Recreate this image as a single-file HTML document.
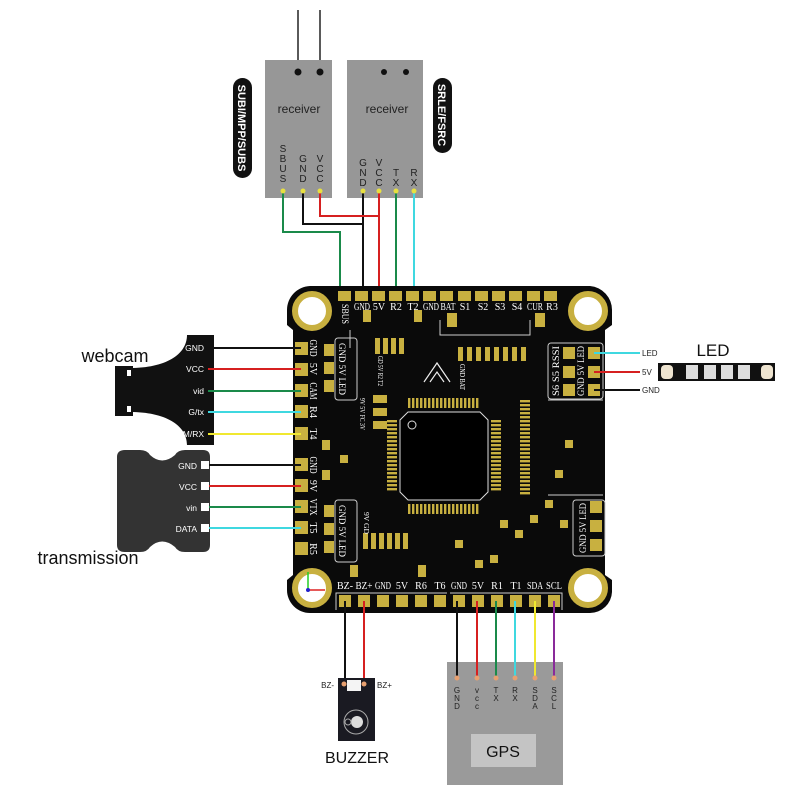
<!DOCTYPE html>
<html><head><meta charset="utf-8"><style>
body{margin:0;background:#fff}
svg{display:block}
text{font-family:"Liberation Sans",sans-serif}
.s,.s text{font-family:"Liberation Serif",serif;fill:#fff}
</style></head><body>
<svg width="800" height="800" viewBox="0 0 800 800">
<line x1="298" y1="10" x2="298" y2="72" stroke="#222" stroke-width="1.5"/>
<line x1="320" y1="10" x2="320" y2="72" stroke="#222" stroke-width="1.5"/>
<rect x="265" y="60" width="67" height="138" fill="#979797"/>
<rect x="347" y="60" width="76" height="138" fill="#979797"/>
<circle cx="298" cy="72" r="3.5" fill="#111"/><circle cx="320" cy="72" r="3.5" fill="#111"/>
<circle cx="384" cy="72" r="3" fill="#111"/><circle cx="406" cy="72" r="3" fill="#111"/>
<text x="299" y="113" font-size="12" fill="#222" text-anchor="middle">receiver</text>
<text x="387" y="113" font-size="12" fill="#222" text-anchor="middle">receiver</text>
<g font-size="10" fill="#222" text-anchor="middle">
<text x="283" y="152">S</text><text x="283" y="162">B</text><text x="283" y="172">U</text><text x="283" y="182">S</text>
<text x="303" y="162">G</text><text x="303" y="172">N</text><text x="303" y="182">D</text>
<text x="320" y="162">V</text><text x="320" y="172">C</text><text x="320" y="182">C</text>
<text x="363" y="166">G</text><text x="363" y="176">N</text><text x="363" y="186">D</text>
<text x="379" y="166">V</text><text x="379" y="176">C</text><text x="379" y="186">C</text>
<text x="396" y="176">T</text><text x="396" y="186">X</text>
<text x="414" y="176">R</text><text x="414" y="186">X</text>
</g>
<rect x="233" y="78" width="19" height="100" rx="9.5" fill="#111"/>
<text transform="translate(238,128) rotate(90)" font-size="11" font-weight="bold" fill="#fff" text-anchor="middle">SUBI/MPP/SUBS</text>
<rect x="433" y="78" width="19" height="75" rx="9.5" fill="#111"/>
<text transform="translate(438,115) rotate(90)" font-size="11" font-weight="bold" fill="#fff" text-anchor="middle">SRLE/FSRC</text>
<g fill="none" stroke-width="2">
<polyline points="283,191 283,232 340,232 340,295" stroke="#1a8a4a"/>
<polyline points="303,191 303,224 363,224" stroke="#111"/>
<polyline points="363,191 363,295" stroke="#111"/>
<polyline points="320,191 320,216 379,216" stroke="#d62020"/>
<polyline points="379,191 379,295" stroke="#d62020"/>
<polyline points="396,191 396,295" stroke="#1a8a4a"/>
<polyline points="414,191 414,295" stroke="#3fd8e0"/>
</g>
<g fill="#e8e040"><circle cx="283" cy="191" r="2.5"/><circle cx="303" cy="191" r="2.5"/><circle cx="320" cy="191" r="2.5"/><circle cx="363" cy="191" r="2.5"/><circle cx="379" cy="191" r="2.5"/><circle cx="396" cy="191" r="2.5"/><circle cx="414" cy="191" r="2.5"/></g>

<path d="M310,286 H590 A24,24 0 0 1 612,310 V325 L605,330 V575 L612,580 V592 A22,22 0 0 1 590,613 H310 A23,23 0 0 1 287,590 V580 L293,575 V330 L287,325 V310 A24,24 0 0 1 310,286Z" fill="#0a0a0a"/>
<g fill="#fff" stroke="#c8b040" stroke-width="6">
<circle cx="312" cy="311" r="17"/><circle cx="588" cy="311" r="17"/><circle cx="312" cy="588" r="17"/><circle cx="588" cy="588" r="17"/>
</g>
<g fill="#c8b040">
<rect x="338" y="291" width="13" height="10"/><rect x="355" y="291" width="13" height="10"/><rect x="372" y="291" width="13" height="10"/><rect x="389" y="291" width="13" height="10"/><rect x="406" y="291" width="13" height="10"/><rect x="423" y="291" width="13" height="10"/><rect x="440" y="291" width="13" height="10"/><rect x="458" y="291" width="13" height="10"/><rect x="475" y="291" width="13" height="10"/><rect x="492" y="291" width="13" height="10"/><rect x="509" y="291" width="13" height="10"/><rect x="527" y="291" width="13" height="10"/><rect x="544" y="291" width="13" height="10"/>
</g>
<g class="s" font-size="10" text-anchor="middle">
<text x="362" y="310" textLength="16" lengthAdjust="spacingAndGlyphs">GND</text><text x="379" y="310">5V</text><text x="396" y="310">R2</text><text x="413" y="310">T2</text><text x="431" y="310" textLength="16" lengthAdjust="spacingAndGlyphs">GND</text><text x="448" y="310" textLength="15" lengthAdjust="spacingAndGlyphs">BAT</text><text x="465" y="310">S1</text><text x="483" y="310">S2</text><text x="500" y="310">S3</text><text x="517" y="310">S4</text><text x="535" y="310" textLength="16" lengthAdjust="spacingAndGlyphs">CUR</text><text x="552" y="310">R3</text>
</g>
<text class="s" font-size="9" transform="translate(342,304) rotate(90)" textLength="20" lengthAdjust="spacingAndGlyphs">SBUS</text>
<g fill="#c8b040">
<rect x="295" y="342" width="13" height="13"/><rect x="295" y="363" width="13" height="13"/><rect x="295" y="384" width="13" height="13"/><rect x="295" y="405" width="13" height="13"/><rect x="295" y="427" width="13" height="13"/>
<rect x="295" y="458" width="13" height="13"/><rect x="295" y="479" width="13" height="13"/><rect x="295" y="500" width="13" height="13"/><rect x="295" y="521" width="13" height="13"/><rect x="295" y="542" width="13" height="13"/>
</g>
<g class="s" font-size="10" text-anchor="middle">
<text transform="translate(310,348) rotate(90)" textLength="17" lengthAdjust="spacingAndGlyphs">GND</text><text transform="translate(310,369) rotate(90)">5V</text><text transform="translate(310,391) rotate(90)" textLength="17" lengthAdjust="spacingAndGlyphs">CAM</text><text transform="translate(310,412) rotate(90)">R4</text><text transform="translate(310,434) rotate(90)">T4</text>
<text transform="translate(310,465) rotate(90)" textLength="17" lengthAdjust="spacingAndGlyphs">GND</text><text transform="translate(310,486) rotate(90)">9V</text><text transform="translate(310,507) rotate(90)" textLength="17" lengthAdjust="spacingAndGlyphs">VTX</text><text transform="translate(310,528) rotate(90)">T5</text><text transform="translate(310,549) rotate(90)">R5</text>
</g>
<rect x="335" y="338" width="22" height="62" rx="3" fill="none" stroke="#ccc" stroke-width="1"/>
<rect x="335" y="500" width="22" height="62" rx="3" fill="none" stroke="#ccc" stroke-width="1"/>
<g fill="#c8b040"><rect x="324" y="344" width="10" height="12"/><rect x="324" y="362" width="10" height="12"/><rect x="324" y="380" width="10" height="12"/>
<rect x="324" y="505" width="10" height="12"/><rect x="324" y="523" width="10" height="12"/><rect x="324" y="541" width="10" height="12"/></g>
<text class="s" font-size="9" transform="translate(339,343) rotate(90)" textLength="52" lengthAdjust="spacingAndGlyphs">GND 5V LED</text>
<text class="s" font-size="9" transform="translate(339,505) rotate(90)" textLength="52" lengthAdjust="spacingAndGlyphs">GND 5V LED</text>
<rect x="548" y="343" width="55" height="56" rx="3" fill="none" stroke="#ccc"/>
<rect x="573" y="500" width="32" height="56" rx="3" fill="none" stroke="#ccc"/>
<g fill="#c8b040">
<rect x="588" y="347" width="12" height="12"/><rect x="588" y="366" width="12" height="12"/><rect x="588" y="384" width="12" height="12"/>
<rect x="563" y="347" width="12" height="12"/><rect x="563" y="366" width="12" height="12"/><rect x="563" y="384" width="12" height="12"/>
<rect x="590" y="501" width="12" height="12"/><rect x="590" y="520" width="12" height="12"/><rect x="590" y="539" width="12" height="12"/>
</g>
<text class="s" font-size="9" transform="translate(584,396) rotate(-90)" textLength="50" lengthAdjust="spacingAndGlyphs">GND 5V LED</text>
<text class="s" font-size="9" transform="translate(559,396) rotate(-90)" textLength="50" lengthAdjust="spacingAndGlyphs">S6 S5 RSSI</text>
<text class="s" font-size="9" transform="translate(586,553) rotate(-90)" textLength="50" lengthAdjust="spacingAndGlyphs">GND 5V LED</text>
<g fill="#c8b040">
<rect x="339" y="595" width="12" height="12"/><rect x="358" y="595" width="12" height="12"/><rect x="377" y="595" width="12" height="12"/><rect x="396" y="595" width="12" height="12"/><rect x="415" y="595" width="12" height="12"/><rect x="434" y="595" width="12" height="12"/>
<rect x="453" y="595" width="12" height="12"/><rect x="472" y="595" width="12" height="12"/><rect x="491" y="595" width="12" height="12"/><rect x="510" y="595" width="12" height="12"/><rect x="529" y="595" width="12" height="12"/><rect x="548" y="595" width="12" height="12"/>
</g>
<path d="M336,610 V593 H447" stroke="#ccc" fill="none"/><path d="M450,593 H562 V610" stroke="#ccc" fill="none"/>
<g class="s" font-size="10" text-anchor="middle">
<text x="345" y="589" textLength="16" lengthAdjust="spacingAndGlyphs">BZ-</text><text x="364" y="589" textLength="17" lengthAdjust="spacingAndGlyphs">BZ+</text><text x="383" y="589" textLength="16" lengthAdjust="spacingAndGlyphs">GND</text><text x="402" y="589">5V</text><text x="421" y="589">R6</text><text x="440" y="589">T6</text><text x="459" y="589" textLength="16" lengthAdjust="spacingAndGlyphs">GND</text><text x="478" y="589">5V</text><text x="497" y="589">R1</text><text x="516" y="589">T1</text><text x="535" y="589" textLength="16" lengthAdjust="spacingAndGlyphs">SDA</text><text x="554" y="589" textLength="16" lengthAdjust="spacingAndGlyphs">SCL</text>
</g>
<line x1="308" y1="590" x2="308" y2="572" stroke="#2c2" stroke-width="1.5"/><line x1="308" y1="590" x2="325" y2="590" stroke="#d22" stroke-width="1.5"/><circle cx="308" cy="590" r="2" fill="#22c"/>
<defs>
<pattern id="ph" width="4" height="10" patternUnits="userSpaceOnUse"><rect width="2.4" height="10" fill="#c8b040"/></pattern>
<pattern id="pv" width="10" height="4" patternUnits="userSpaceOnUse"><rect width="10" height="2.4" fill="#c8b040"/></pattern>
</defs>
<path d="M408,412 H480 L488,420 V492 L480,500 H408 L400,492 V420Z" fill="#000" stroke="#ddd" stroke-width="1"/>
<circle cx="412" cy="425" r="4" fill="none" stroke="#ddd"/>
<rect x="408" y="398" width="72" height="10" fill="url(#ph)"/>
<rect x="408" y="504" width="72" height="10" fill="url(#ph)"/>
<rect x="387" y="420" width="10" height="72" fill="url(#pv)"/>
<rect x="491" y="420" width="10" height="72" fill="url(#pv)"/>
<path d="M424,382 L437,363 L450,382 M430,382 L437,372 L444,382" stroke="#eee" fill="none" stroke-width="1.2"/>
<g fill="#c8b040">
<rect x="363" y="310" width="8" height="12"/><rect x="414" y="310" width="8" height="12"/><rect x="447" y="313" width="10" height="14"/><rect x="535" y="313" width="10" height="14"/>
<rect x="375" y="338" width="5" height="16"/><rect x="383" y="338" width="5" height="16"/><rect x="391" y="338" width="5" height="16"/><rect x="399" y="338" width="5" height="16"/>
<rect x="458" y="347" width="5" height="14"/><rect x="467" y="347" width="5" height="14"/><rect x="476" y="347" width="5" height="14"/><rect x="485" y="347" width="5" height="14"/><rect x="494" y="347" width="5" height="14"/><rect x="503" y="347" width="5" height="14"/><rect x="512" y="347" width="5" height="14"/><rect x="521" y="347" width="5" height="14"/>
<rect x="363" y="533" width="5" height="16"/><rect x="371" y="533" width="5" height="16"/><rect x="379" y="533" width="5" height="16"/><rect x="387" y="533" width="5" height="16"/><rect x="395" y="533" width="5" height="16"/><rect x="403" y="533" width="5" height="16"/>
<rect x="350" y="565" width="8" height="12"/><rect x="418" y="565" width="8" height="12"/>
<rect x="373" y="395" width="14" height="8"/><rect x="373" y="408" width="14" height="8"/><rect x="373" y="421" width="14" height="8"/>
<rect x="520" y="400" width="10" height="95" fill="url(#pv)"/>
<rect x="500" y="520" width="8" height="8"/><rect x="515" y="530" width="8" height="8"/><rect x="530" y="515" width="8" height="8"/><rect x="545" y="500" width="8" height="8"/><rect x="560" y="520" width="8" height="8"/><rect x="475" y="560" width="8" height="8"/><rect x="490" y="555" width="8" height="8"/><rect x="455" y="540" width="8" height="8"/>
<rect x="322" y="440" width="8" height="10"/><rect x="322" y="470" width="8" height="10"/><rect x="340" y="455" width="8" height="8"/><rect x="555" y="470" width="8" height="8"/><rect x="565" y="440" width="8" height="8"/>
</g>
<path d="M548,400 H603 M548,495 H603 M350,330 V348 M440,320 V335 H530 V320" stroke="#ccc" fill="none"/>
<g class="s" font-size="7">
<text transform="translate(378,356) rotate(90)" textLength="30" lengthAdjust="spacingAndGlyphs">GD 5V R2 T2</text>
<text transform="translate(460,364) rotate(90)" textLength="26" lengthAdjust="spacingAndGlyphs">GND BAT</text>
<text transform="translate(360,398) rotate(90)" textLength="32" lengthAdjust="spacingAndGlyphs">9V 5V FC 3V</text>
<text transform="translate(364,512) rotate(90)" textLength="22" lengthAdjust="spacingAndGlyphs">9V GD</text>
</g>

<path d="M187,335 H214 V445 H187 C187,425 165,412 130,412 V368 C165,368 187,355 187,335Z" fill="#111"/>
<rect x="115" y="366" width="18" height="50" fill="#111"/>
<rect x="127" y="370" width="4" height="6" fill="#fff"/><rect x="127" y="406" width="4" height="6" fill="#fff"/>
<text x="115" y="362" font-size="18" fill="#111" text-anchor="middle">webcam</text>
<g font-size="8.5" fill="#fff" text-anchor="end">
<text x="204" y="351">GND</text><text x="204" y="372">VCC</text><text x="204" y="394">vid</text><text x="204" y="415">G/tx</text><text x="204" y="437">M/RX</text>
</g>
<path d="M125,450 H140 Q147,450 150,455 Q162,466 175,455 Q178,450 185,450 H203 Q210,450 210,457 V545 Q210,552 203,552 H185 Q178,552 175,547 Q162,536 150,547 Q147,552 140,552 H125 Q117,552 117,545 V457 Q117,450 125,450Z" fill="#333"/>
<g fill="#fff"><rect x="201" y="461" width="8" height="8"/><rect x="201" y="482" width="8" height="8"/><rect x="201" y="503" width="8" height="8"/><rect x="201" y="524" width="8" height="8"/></g>
<g font-size="8.5" fill="#fff" text-anchor="end">
<text x="197" y="469">GND</text><text x="197" y="490">VCC</text><text x="197" y="511">vin</text><text x="197" y="532">DATA</text>
</g>
<text x="88" y="564" font-size="18" fill="#111" text-anchor="middle">transmission</text>
<g stroke-width="2">
<line x1="208" y1="348" x2="301" y2="348" stroke="#111"/>
<line x1="208" y1="369" x2="301" y2="369" stroke="#d62020"/>
<line x1="208" y1="391" x2="301" y2="391" stroke="#1a8a4a"/>
<line x1="208" y1="412" x2="301" y2="412" stroke="#3fd8e0"/>
<line x1="208" y1="434" x2="301" y2="434" stroke="#f0e830"/>
<line x1="209" y1="465" x2="301" y2="465" stroke="#111"/>
<line x1="209" y1="486" x2="301" y2="486" stroke="#d62020"/>
<line x1="209" y1="507" x2="301" y2="507" stroke="#1a8a4a"/>
<line x1="209" y1="528" x2="301" y2="528" stroke="#3fd8e0"/>
</g>
<g stroke-width="2">
<line x1="594" y1="353" x2="640" y2="353" stroke="#3fd8e0"/>
<line x1="594" y1="372" x2="640" y2="372" stroke="#d62020"/>
<line x1="594" y1="390" x2="640" y2="390" stroke="#111"/>
</g>
<g font-size="8" fill="#222"><text x="642" y="356">LED</text><text x="642" y="375">5V</text><text x="642" y="393">GND</text></g>
<text x="713" y="356" font-size="17" fill="#111" text-anchor="middle">LED</text>
<rect x="658" y="363" width="117" height="18" fill="#111"/>
<g fill="#eee4d0"><rect x="661" y="365" width="12" height="14" rx="4"/><rect x="761" y="365" width="12" height="14" rx="4"/></g>
<g fill="#ddd"><rect x="686" y="365" width="12" height="14"/><rect x="704" y="365" width="12" height="14"/><rect x="721" y="365" width="12" height="14"/><rect x="738" y="365" width="12" height="14"/></g>
<g stroke-width="2">
<line x1="345" y1="601" x2="345" y2="683" stroke="#111"/>
<line x1="364" y1="601" x2="364" y2="683" stroke="#d62020"/>
</g>
<rect x="338" y="678" width="37" height="63" fill="#1a1a22"/>
<rect x="347" y="680" width="14" height="11" fill="#f4f4f4"/>
<circle cx="344" cy="684" r="2.5" fill="#e8a070"/><circle cx="364" cy="684" r="2.5" fill="#e8a070"/>
<circle cx="356" cy="722" r="12" fill="none" stroke="#aaa" stroke-width="1"/>
<circle cx="357" cy="722" r="6" fill="#ddd"/><circle cx="348" cy="722" r="3" fill="none" stroke="#aaa"/>
<text x="334" y="688" font-size="8" fill="#222" text-anchor="end">BZ-</text>
<text x="377" y="688" font-size="8" fill="#222">BZ+</text>
<text x="357" y="763" font-size="16" fill="#111" text-anchor="middle">BUZZER</text>
<rect x="447" y="662" width="116" height="123" fill="#9a9a9a"/>
<rect x="471" y="734" width="65" height="33" fill="#c4c4c4"/>
<text x="503" y="757" font-size="16" fill="#111" text-anchor="middle">GPS</text>
<g stroke-width="2">
<line x1="457" y1="601" x2="457" y2="678" stroke="#111"/>
<line x1="477" y1="601" x2="477" y2="678" stroke="#d62020"/>
<line x1="496" y1="601" x2="496" y2="678" stroke="#1a8a4a"/>
<line x1="515" y1="601" x2="515" y2="678" stroke="#3fd8e0"/>
<line x1="535" y1="601" x2="535" y2="678" stroke="#f0e830"/>
<line x1="554" y1="601" x2="554" y2="678" stroke="#8a2a9a"/>
</g>
<g fill="#e8a070"><circle cx="457" cy="678" r="2.5"/><circle cx="477" cy="678" r="2.5"/><circle cx="496" cy="678" r="2.5"/><circle cx="515" cy="678" r="2.5"/><circle cx="535" cy="678" r="2.5"/><circle cx="554" cy="678" r="2.5"/></g>
<g font-size="8" fill="#222" text-anchor="middle">
<text x="457" y="693">G</text><text x="457" y="701">N</text><text x="457" y="709">D</text>
<text x="477" y="693">v</text><text x="477" y="701">c</text><text x="477" y="709">c</text>
<text x="496" y="693">T</text><text x="496" y="701">X</text>
<text x="515" y="693">R</text><text x="515" y="701">X</text>
<text x="535" y="693">S</text><text x="535" y="701">D</text><text x="535" y="709">A</text>
<text x="554" y="693">S</text><text x="554" y="701">C</text><text x="554" y="709">L</text>
</g>
</svg>
</body></html>
